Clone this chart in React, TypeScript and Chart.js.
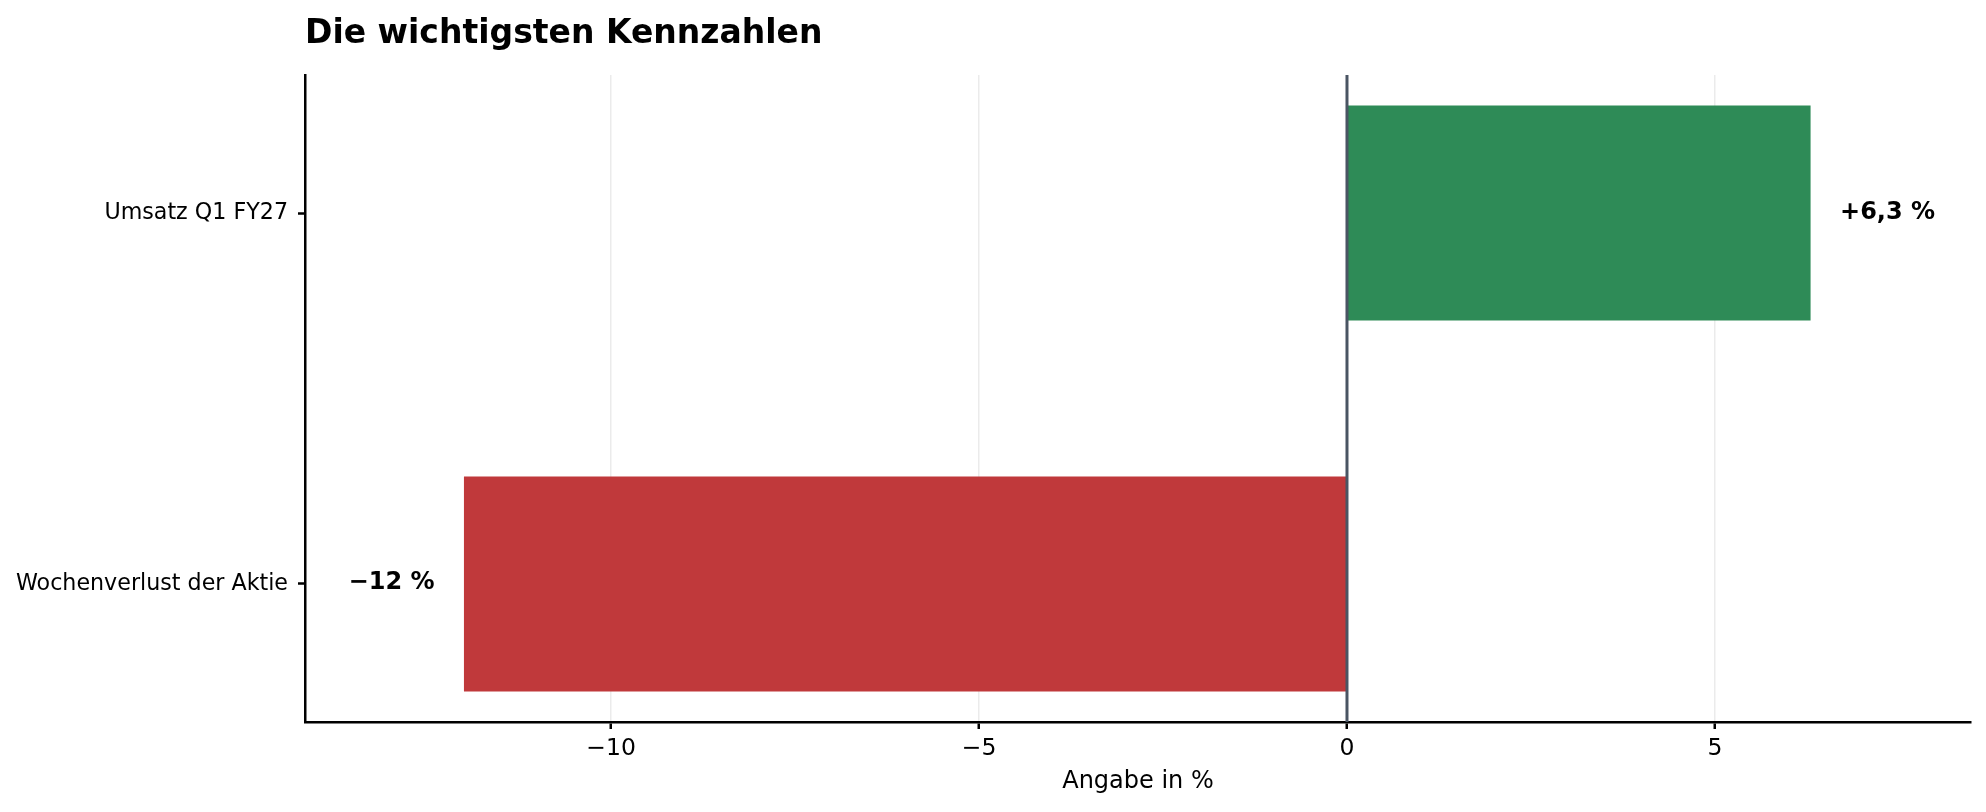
import { useEffect, useRef } from "react";
import { Chart, registerables } from "chart.js";

Chart.register(...registerables);

// Data
const categories = ["Umsatz Q1 FY27", "Wochenverlust der Aktie"];
const values = [6.3, -12];
const valueLabels = ["+6,3 %", "\u221212 %"];
const barColors = ["#2e8b57", "#c0393b"];
const xTicks = [-10, -5, 0, 5];

const FONT = "'DejaVu Sans', sans-serif";

const annotations = {
  id: "annotations",
  afterDatasetsDraw(chart: any) {
    const { ctx, chartArea, scales } = chart;
    const xs = scales.x;
    const ys = scales.y;
    ctx.save();

    // zero line
    const x0 = xs.getPixelForValue(0);
    ctx.strokeStyle = "#4a5563";
    ctx.lineWidth = 3;
    ctx.beginPath();
    ctx.moveTo(x0, chartArea.top);
    ctx.lineTo(x0, chartArea.bottom);
    ctx.stroke();

    // value labels
    ctx.fillStyle = "#000";
    ctx.font = `bold 24px ${FONT}`;
    ctx.textBaseline = "alphabetic";
    values.forEach((v, i) => {
      const y = ys.getPixelForValue(i) + 5.5;
      if (v >= 0) {
        ctx.textAlign = "left";
        ctx.fillText(valueLabels[i], xs.getPixelForValue(v + 0.4), y);
      } else {
        ctx.textAlign = "right";
        ctx.fillText(valueLabels[i], xs.getPixelForValue(v - 0.4), y);
      }
    });

    // title
    ctx.textAlign = "left";
    ctx.font = `bold 33px ${FONT}`;
    ctx.fillText("Die wichtigsten Kennzahlen", chartArea.left, 43);

    // x axis title
    ctx.textAlign = "center";
    ctx.font = `24px ${FONT}`;
    ctx.fillText("Angabe in %", (chartArea.left + chartArea.right) / 2, 788);

    ctx.restore();
  },
};

const KpiChart = () => {
  const chartRef = useRef<HTMLCanvasElement>(null);
  const chartInstance = useRef<Chart | null>(null);

  useEffect(() => {
    if (!chartRef.current) return;
    if (chartInstance.current) chartInstance.current.destroy();
    const ctx = chartRef.current.getContext("2d");
    if (!ctx) return;

    chartInstance.current = new Chart(ctx, {
      type: "bar",
      data: {
        datasets: [
          {
            data: values.map((v, i) => ({ x: v, y: i })),
            backgroundColor: barColors,
            borderWidth: 0,
            barPercentage: 0.58,
            categoryPercentage: 1,
          },
        ],
      },
      options: {
        indexAxis: "y",
        animation: false,
        responsive: true,
        maintainAspectRatio: false,
        layout: { padding: { top: 75, right: 15, left: 0, bottom: 0 } },
        plugins: {
          legend: { display: false },
          tooltip: { enabled: false },
          title: { display: false },
        },
        scales: {
          x: {
            type: "linear",
            min: -14.16,
            max: 8.48,
            afterBuildTicks: (scale: any) => {
              scale.ticks = xTicks.map((v) => ({ value: v }));
            },
            afterFit: (scale: any) => {
              scale.height = 90;
            },
            grid: {
              color: "#ebebeb",
              lineWidth: 1.5,
              tickColor: "#000",
              tickWidth: 2.5,
              tickLength: 7,
            },
            border: { display: true, color: "#000", width: 2.5 },
            ticks: {
              color: "#000",
              padding: 6,
              font: { family: FONT, size: 23.5 },
              callback: (v: any) => String(v).replace("-", "\u2212"),
            },
          },
          y: {
            type: "linear",
            reverse: true,
            offset: false,
            min: -0.372,
            max: 1.372,
            afterBuildTicks: (scale: any) => {
              scale.ticks = categories.map((_, i) => ({ value: i }));
            },
            afterFit: (scale: any) => {
              scale.width = 305;
            },
            grid: {
              offset: false,
              drawOnChartArea: false,
              tickColor: "#000",
              tickWidth: 2.5,
              tickLength: 7,
            },
            border: { display: true, color: "#000", width: 2.5 },
            ticks: {
              color: "#000",
              padding: 10,
              font: { family: FONT, size: 22.2 },
              callback: (v: any) => categories[v] ?? "",
            },
          },
        },
      },
      plugins: [annotations],
    });

    return () => {
      if (chartInstance.current) {
        chartInstance.current.destroy();
        chartInstance.current = null;
      }
    };
  }, []);

  return <canvas ref={chartRef}></canvas>;
};

export default function App() {
  return (
    <div style={{ position: "absolute", left: 0, top: 0, width: 1986, height: 812, background: "#fff" }}>
      <KpiChart />
    </div>
  );
}
